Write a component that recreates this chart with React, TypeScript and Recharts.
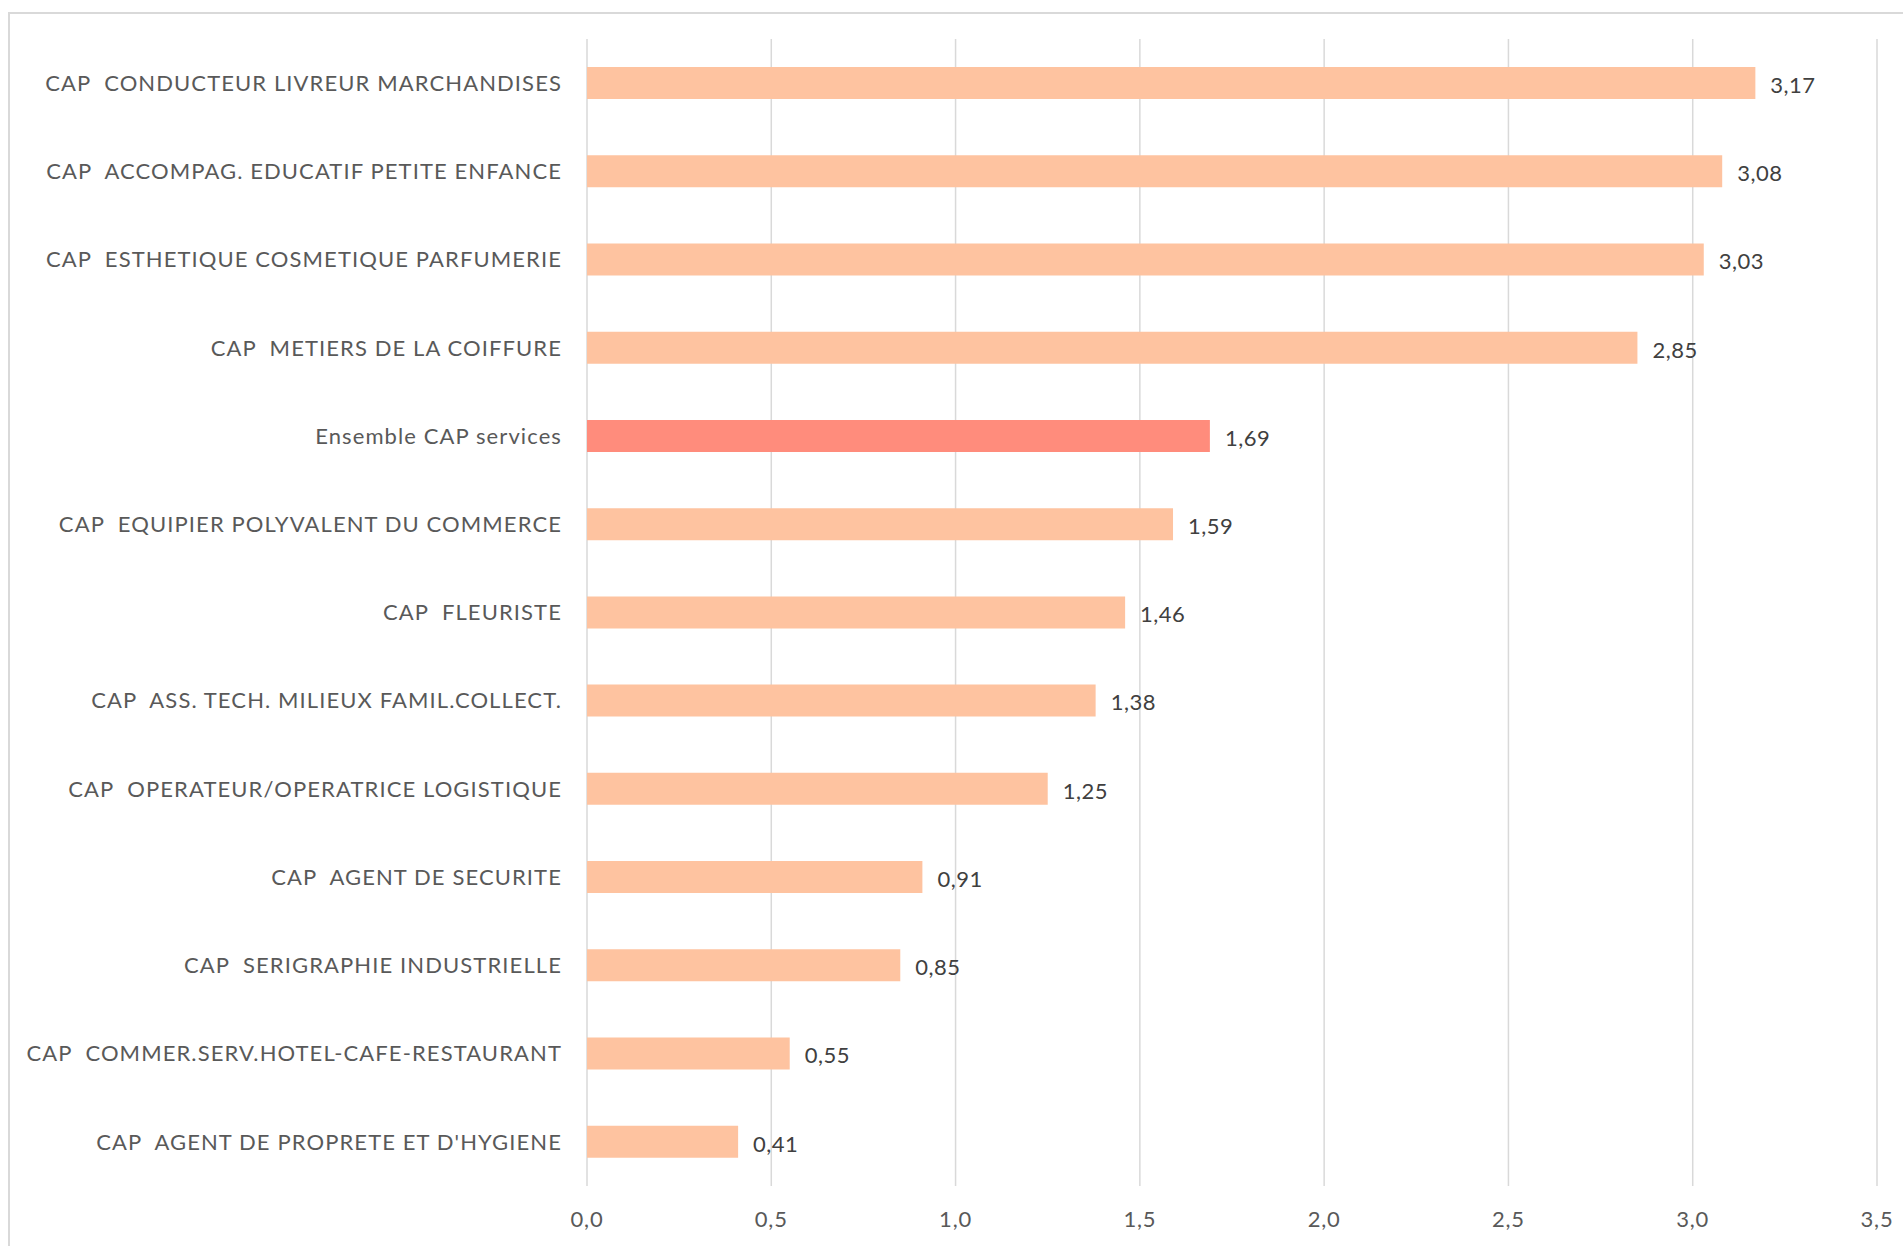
import React from 'react';
import { BarChart, Bar, XAxis, YAxis, CartesianGrid, Cell, LabelList } from 'recharts';

const categories = [
  'CAP  CONDUCTEUR LIVREUR MARCHANDISES',
  'CAP  ACCOMPAG. EDUCATIF PETITE ENFANCE',
  'CAP  ESTHETIQUE COSMETIQUE PARFUMERIE',
  'CAP  METIERS DE LA COIFFURE',
  'Ensemble CAP services',
  'CAP  EQUIPIER POLYVALENT DU COMMERCE',
  'CAP  FLEURISTE',
  'CAP  ASS. TECH. MILIEUX FAMIL.COLLECT.',
  'CAP  OPERATEUR/OPERATRICE LOGISTIQUE',
  'CAP  AGENT DE SECURITE',
  'CAP  SERIGRAPHIE INDUSTRIELLE',
  'CAP  COMMER.SERV.HOTEL-CAFE-RESTAURANT',
  "CAP  AGENT DE PROPRETE ET D'HYGIENE",
];

const values = [3.17, 3.08, 3.03, 2.85, 1.69, 1.59, 1.46, 1.38, 1.25, 0.91, 0.85, 0.55, 0.41];

const highlighted = ['Ensemble CAP services'];

const xTicks = [0, 0.5, 1, 1.5, 2, 2.5, 3, 3.5];

const data = categories.map((name, i) => ({ name, value: values[i] }));

const FONT = 'Lato, "Open Sans", sans-serif';
const comma = (v: number, d: number) => v.toFixed(d).replace('.', ',');

const CategoryTick = ({ x, y, payload }: any) => (
  <text
    x={x}
    y={y}
    dy="0.35em"
    textAnchor="end"
    fill="#595959"
    fontSize={22}
    fontFamily={FONT}
    letterSpacing={1.1}
    style={{ whiteSpace: 'pre' }}
  >
    {payload.value}
  </text>
);

export default function App() {
  return (
    <div style={{ position: 'fixed', left: 0, top: 0, width: 1903, height: 1246, overflow: 'hidden', background: '#fff' }}>
      <div
        style={{
          position: 'absolute',
          left: 8,
          top: 12,
          width: 2000,
          height: 1400,
          border: '2px solid #d9d9d9',
        }}
      />
      <div style={{ position: 'absolute', left: 0, top: 0 }}>
        <BarChart
          width={1903}
          height={1246}
          data={data}
          layout="vertical"
          margin={{ top: 39, right: 26, bottom: 30, left: 0 }}
          barSize={32}
        >
          <CartesianGrid horizontal={false} stroke="#d9d9d9" strokeWidth={1.5} />
          <XAxis
            type="number"
            domain={[0, 3.5]}
            ticks={xTicks}
            axisLine={false}
            tickLine={false}
            tickSize={0}
            tickMargin={25}
            tickFormatter={(v: number) => comma(v, 1)}
            tick={{ fill: '#595959', fontSize: 22, fontFamily: FONT, letterSpacing: 0.8 }}
          />
          <YAxis
            type="category"
            dataKey="name"
            width={587}
            axisLine={false}
            tickLine={false}
            tickSize={0}
            tickMargin={25}
            interval={0}
            tick={<CategoryTick />}
          />
          <Bar dataKey="value" isAnimationActive={false}>
            {data.map((d, i) => (
              <Cell key={`cell-${i}`} fill={highlighted.includes(d.name) ? '#FF8C7C' : '#FEC3A0'} />
            ))}
            <LabelList
              dataKey="value"
              position="right"
              offset={15}
              formatter={(v: any) => comma(Number(v), 2)}
              style={{ fill: '#404040', fontSize: 22, fontFamily: FONT, letterSpacing: 0.5, transform: 'translateY(2px)' }}
            />
          </Bar>
        </BarChart>
      </div>
    </div>
  );
}
